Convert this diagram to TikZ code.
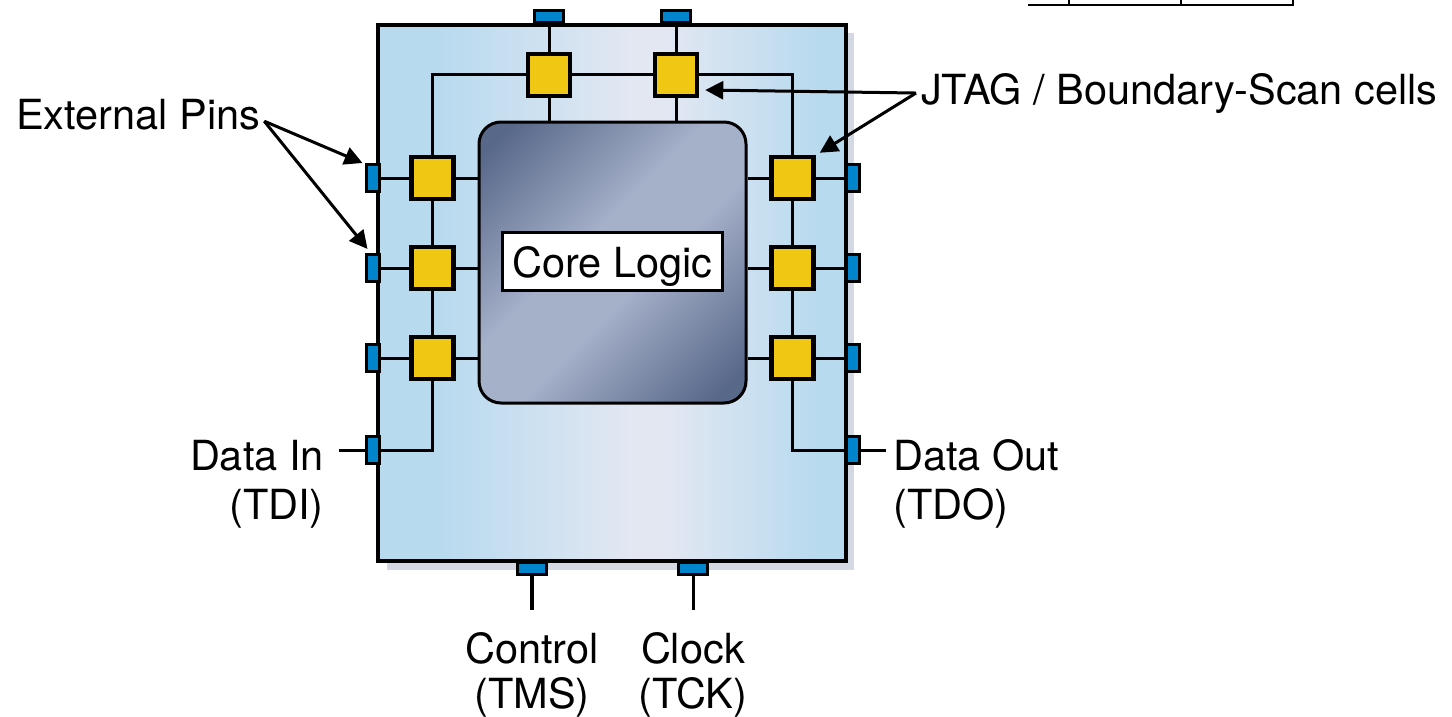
\documentclass[tikz,border=0pt]{standalone}
\usepackage{fontspec}
\setmainfont{TeX Gyre Heros}
\usetikzlibrary{calc,arrows.meta,shapes}
\definecolor{pinblue}{HTML}{0085CC}
\definecolor{cellyellow}{HTML}{F0C814}
\definecolor{chipedge}{HTML}{B8DAEF}
\definecolor{chipmid}{HTML}{E2E7F2}
\definecolor{chipshadow}{HTML}{D4D8E2}
\definecolor{coredark}{HTML}{586889}
\definecolor{corelight}{HTML}{A5B0C9}
\pgfdeclarehorizontalshading{chipfill}{100bp}{color(0bp)=(chipedge); color(31.7bp)=(chipedge); color(52bp)=(chipmid); color(56bp)=(chipmid); color(72bp)=(chipedge); color(100bp)=(chipedge)}
\pgfdeclarehorizontalshading{corefill}{100bp}{color(0bp)=(coredark); color(19bp)=(coredark); color(44bp)=(corelight); color(56bp)=(corelight); color(81bp)=(coredark); color(100bp)=(coredark)}
\tikzset{
    cell/.style = {draw, rectangle, line width=4.5pt, fill=cellyellow, minimum size=42pt, inner sep=0pt},
    pinv/.style = {draw, rectangle, line width=3pt, fill=pinblue, minimum width=13pt, minimum height=27pt, inner sep=0pt},
    pinh/.style = {draw, rectangle, line width=3pt, fill=pinblue, minimum width=29pt, minimum height=12pt, inner sep=0pt},
    wire/.style = {draw, line width=3pt},
    lbl/.style = {font=\fontsize{41.5}{49}\selectfont, inner sep=0pt},
    lowlbl/.style = {font=\fontsize{41.5}{45}\selectfont, inner sep=0pt, align=center},
    pointer/.style = {draw, line width=3pt, -{Triangle[length=18pt,width=18pt]}}
}
\begin{document}
\begin{tikzpicture}[x=1pt,y=-1pt]
                \useasboundingbox (0,0) rectangle (1452,717);
                % package outline
                \fill[chipshadow] (387,33) rectangle (854,570);
                \node[draw,line width=4pt,shading=chipfill,minimum width=468pt,minimum height=536pt,inner sep=0pt] (chip) at (611.5,293) {};
                \node[draw,line width=3pt,rounded corners=22pt,shading=corefill,shading angle=-45,minimum width=267pt,minimum height=281pt,inner sep=0pt] (core) at (612.5,262.5) {};
                \node[draw,fill=white,line width=3pt,minimum width=220pt,minimum height=58pt,inner sep=0pt,lbl] (corelbl) at (612.5,261.5) {\raisebox{-15.5pt}[0pt][0pt]{Core Logic}};
                % scan cells
                \node[cell] (top1) at (549,75) {};
                \node[cell] (top2) at (676,75) {};
                \foreach \n/\y in {1/178,2/268,3/358}{
                    \node[cell] (left\n) at (432.5,\y) {};
                    \node[cell] (right\n) at (792.5,\y) {};
                    \node[pinv] (pinl\n) at (372.5,\y) {};
                    \node[pinv] (pinr\n) at (853,\y) {};
                    \draw[wire] (pinl\n) -- (left\n);
                    \draw[wire] (pinr\n) -- (right\n);
                    \draw[wire] (left\n) -- (left\n -| core.west);
                    \draw[wire] (right\n) -- (right\n -| core.east);
                }
                % pins
                \node[pinh] (pint1) at (549,17) {};
                \node[pinh] (pint2) at (676,17) {};
                \node[pinh] (pinb1) at (532,568) {};
                \node[pinh] (pinb2) at (693,568) {};
                \node[pinv] (tdi) at (372.5,450) {};
                \node[pinv] (tdo) at (853,450) {};
                % scan chain
                \draw[wire] (tdi) -| (left3);
                \draw[wire] (left3) -- (left2);
                \draw[wire] (left2) -- (left1);
                \draw[wire] (left1) |- (top1);
                \draw[wire] (top1) -- (top2);
                \draw[wire] (top2) -| (right1);
                \draw[wire] (right1) -- (right2);
                \draw[wire] (right2) -- (right3);
                \draw[wire] (right3) |- (tdo);
                \draw[wire] (pint1) -- (top1);
                \draw[wire] (pint2) -- (top2);
                \draw[wire] (top1) -- (top1 |- core.north);
                \draw[wire] (top2) -- (top2 |- core.north);
                % labels
                \node[lbl,anchor=base west] (extpins) at (16,129) {External Pins};
                \node[lbl,anchor=base west] (jtag) at (921,104) {JTAG / Boundary-Scan cells};
                \node[lbl,align=right,anchor=east] (tdilbl) at (324,484) {Data In\\(TDI)};
                \node[lbl,align=left,anchor=west] (tdolbl) at (893,484) {Data Out\\(TDO)};
                \node[lowlbl] (tmslbl) at (532,675) {Control\\(TMS)};
                \node[lowlbl] (tcklbl) at (693,675) {Clock\\(TCK)};
                % free wire ends
                \coordinate (tdiend) at (339,450);
                \coordinate (tdoend) at (886,450);
                \coordinate (tmsend) at (532,610);
                \coordinate (tckend) at (693,610);
                \draw[wire] (tdiend) -- (tdi);
                \draw[wire] (tdo) -- (tdoend);
                \draw[line width=4pt] (pinb1) -- (tmsend);
                \draw[wire] (pinb2) -- (tckend);
                % pointers
                \coordinate (extfrom) at ($(extpins.east)+(4,7)$);
                \coordinate (jtagfrom) at ($(jtag.west)+(-5,0)$);
                \draw[pointer] (extfrom) -- ($(pinl1.north west)+(-2,0)$);
                \draw[pointer] (extfrom) -- ($(pinl2.north)+(-5,-4)$);
                \draw[pointer] (jtagfrom) -- ($(top2.east)+(6,15)$);
                \draw[pointer] (jtagfrom) -- ($(right1.north east)+(4,-2)$);
                % table edge
                \draw[line width=2pt] (1028,5.5) -- (1293,5.5);
                \foreach \x in {1069,1181,1293}{
                    \draw[line width=2pt] (\x,0) -- (\x,6.5);
                }
            \end{tikzpicture}
\end{document}
